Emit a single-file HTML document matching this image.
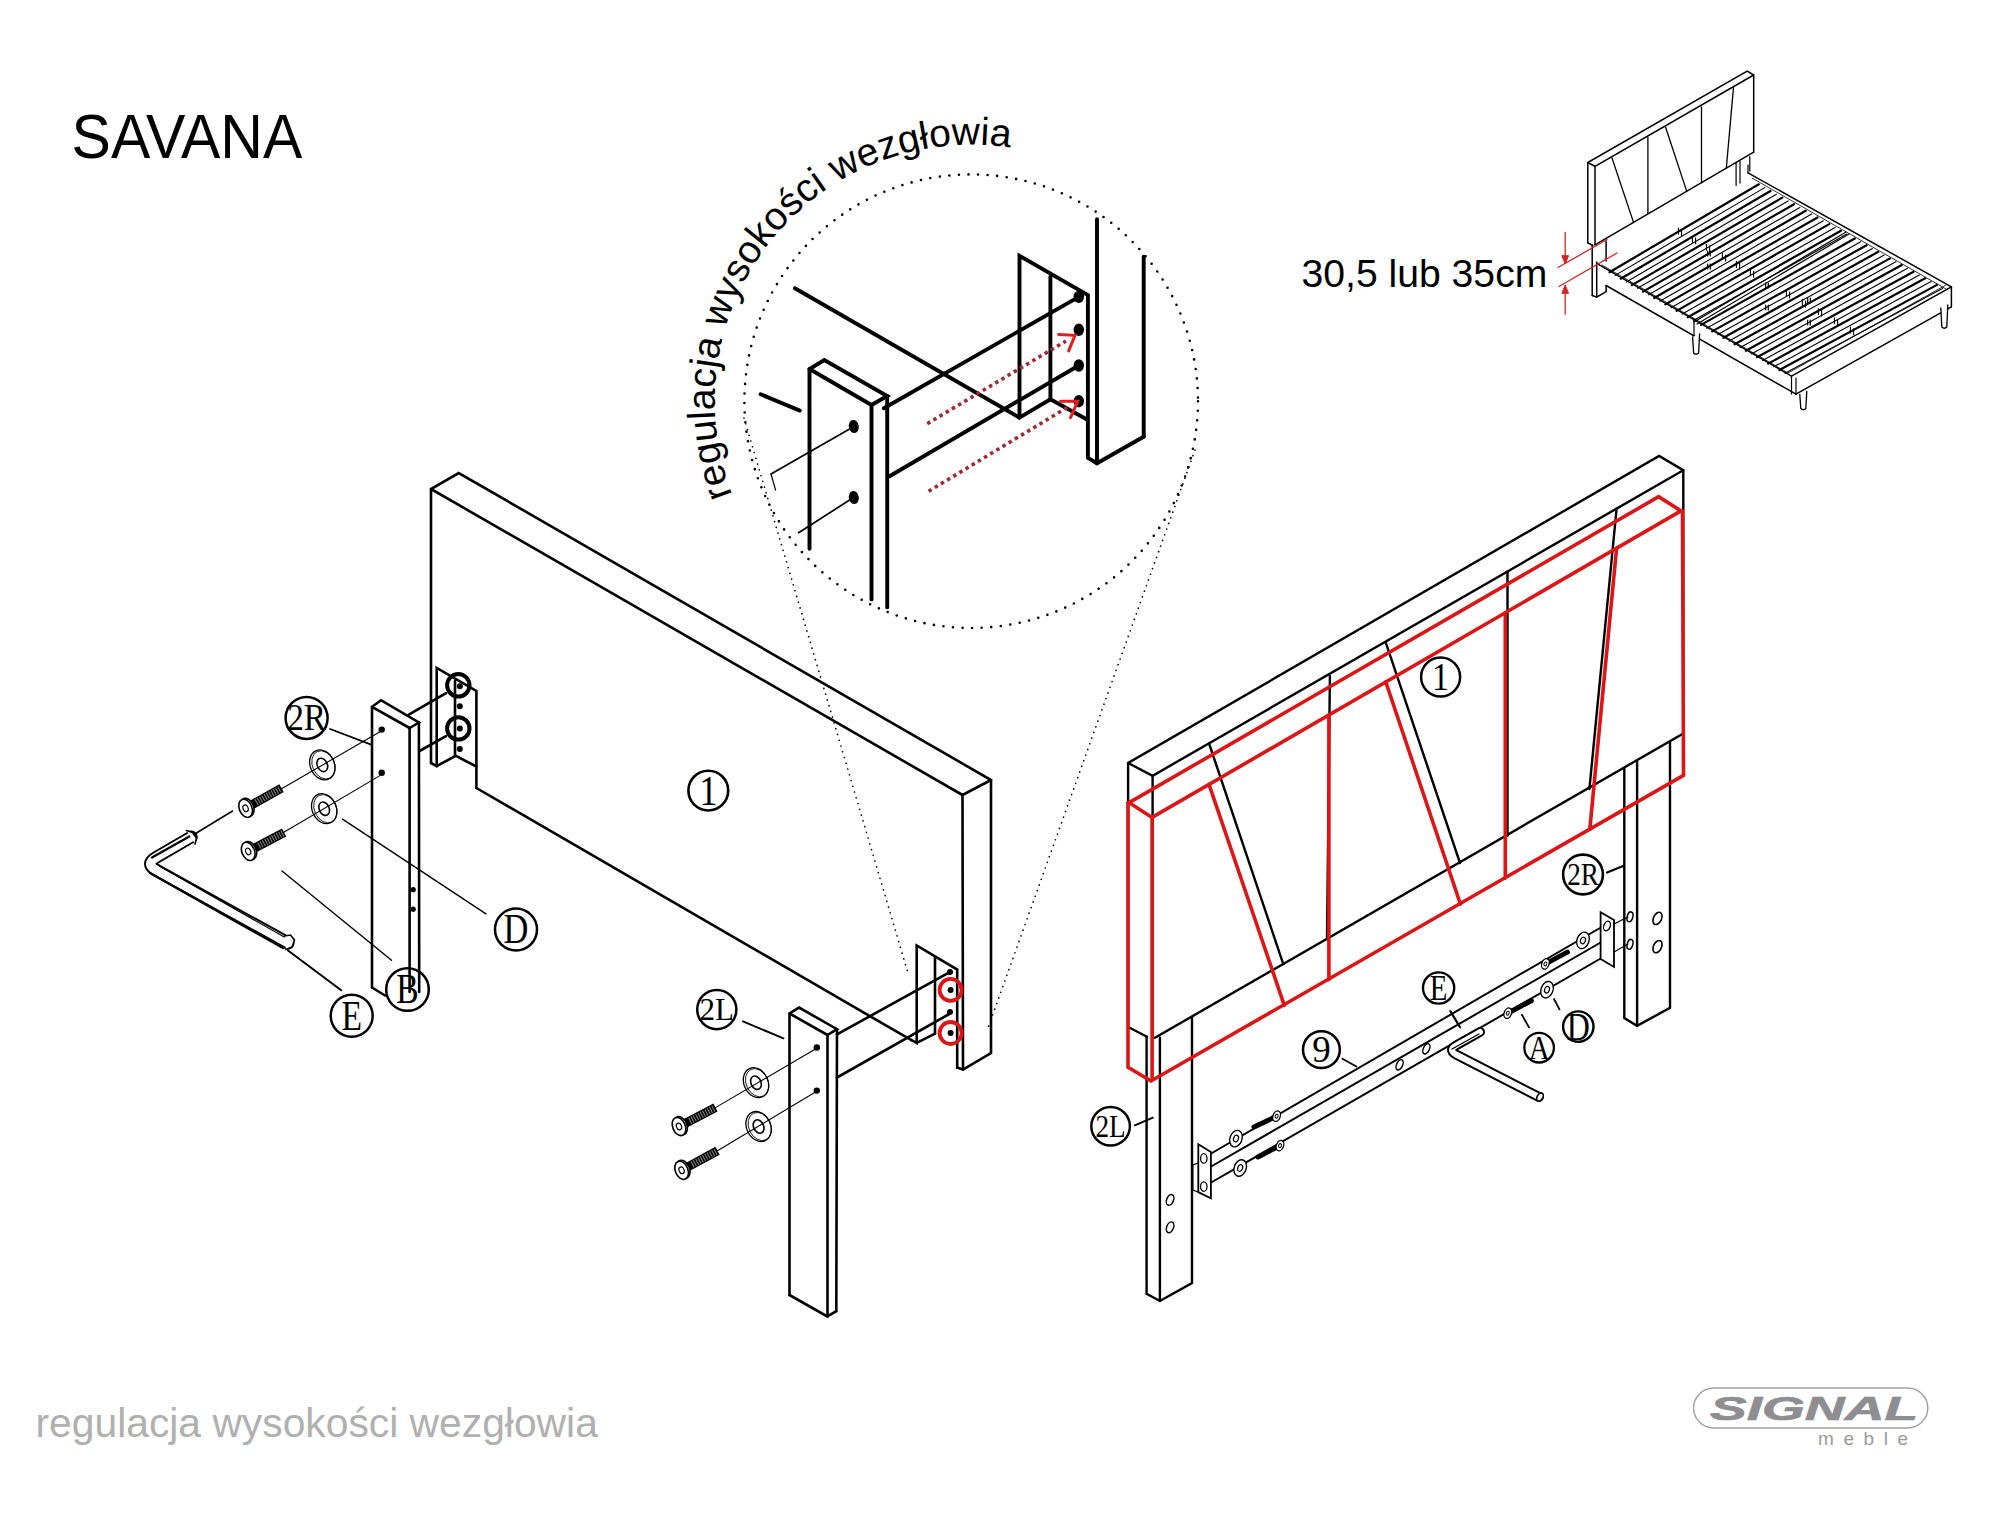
<!DOCTYPE html>
<html><head><meta charset="utf-8"><style>
html,body{margin:0;padding:0;background:#fff;}
svg{display:block;}
</style></head><body>
<svg width="2000" height="1531" viewBox="0 0 2000 1531" font-family="Liberation Sans" stroke-linecap="round">
<rect width="2000" height="1531" fill="#fff"/>
<text x="0" y="0" font-size="63" fill="#000" transform="translate(71.6 158) scale(0.937 1)">SAVANA</text>
<text x="35.5" y="1437" font-family="Liberation Sans" font-size="40.8" fill="#b0b0b0" text-anchor="start" >regulacja wysokości wezgłowia</text>
<text x="0" y="0" font-size="38" fill="#000" transform="translate(1301.5 287) scale(1.03 1)">30,5 lub 35cm</text>
<polyline points="431,763 431,489 458.7,473 991,780 991,1053 963,1069.6 957.2,1067.6" stroke="#000" stroke-width="2.6" fill="none" stroke-linejoin="miter" />
<line x1="431" y1="489" x2="962.5" y2="795" stroke="#000" stroke-width="2.6" />
<line x1="962.5" y1="795" x2="991" y2="780" stroke="#000" stroke-width="2.6" />
<line x1="962.5" y1="795" x2="963" y2="1069.6" stroke="#000" stroke-width="2.6" />
<polyline points="431,763 436.7,766.1" stroke="#000" stroke-width="2.6" fill="none" stroke-linejoin="miter" />
<polyline points="436.7,766.1 436.7,668 476.4,691 476.4,788" stroke="#000" stroke-width="2.6" fill="none" stroke-linejoin="miter" />
<polyline points="436.7,766.1 455.8,755.8 476.4,766.6" stroke="#000" stroke-width="2.6" fill="none" stroke-linejoin="miter" />
<line x1="455" y1="681" x2="455" y2="755.8" stroke="#000" stroke-width="2.6" />
<line x1="476.4" y1="788" x2="911.4" y2="1040.2" stroke="#000" stroke-width="2.6" />
<polyline points="911.4,1040.2 916.7,1042.8 916.7,945.5 957.2,969.6 957.2,1067.6" stroke="#000" stroke-width="2.6" fill="none" stroke-linejoin="miter" />
<line x1="916.7" y1="1042.8" x2="935" y2="1033.6" stroke="#000" stroke-width="2.6" />
<line x1="935" y1="957" x2="935" y2="1033.6" stroke="#000" stroke-width="2.6" />
<circle cx="459.8" cy="686.2" r="3" fill="#000"/>
<circle cx="459.8" cy="706.3" r="3" fill="#000"/>
<circle cx="459.8" cy="728.4" r="3" fill="#000"/>
<circle cx="459.8" cy="749" r="3" fill="#000"/>
<circle cx="950" cy="972" r="3" fill="#000"/>
<circle cx="950.6" cy="989.9" r="3" fill="#000"/>
<circle cx="950" cy="1012" r="3" fill="#000"/>
<circle cx="950.6" cy="1033" r="3" fill="#000"/>
<circle cx="458.3" cy="685.3" r="11.2" stroke="#000" stroke-width="4.0" fill="none" />
<circle cx="458.3" cy="728.4" r="11.2" stroke="#000" stroke-width="4.0" fill="none" />
<circle cx="950.6" cy="989.9" r="11" stroke="#dc1616" stroke-width="3.8" fill="none" />
<circle cx="950.6" cy="1033" r="11" stroke="#dc1616" stroke-width="3.8" fill="none" />
<polyline points="372,987.5 372,706.8 381,700.2 418.9,722.5 409.6,728" stroke="#000" stroke-width="2.6" fill="none" stroke-linejoin="miter" />
<line x1="372" y1="706.8" x2="409.6" y2="728" stroke="#000" stroke-width="2.6" />
<line x1="409.6" y1="728" x2="409.6" y2="992" stroke="#000" stroke-width="2.6" />
<line x1="418.9" y1="722.5" x2="419.2" y2="992" stroke="#000" stroke-width="2.6" />
<line x1="372" y1="987.5" x2="385" y2="995.5" stroke="#000" stroke-width="2.6" />
<circle cx="381.7" cy="729.6" r="3.2" fill="#000"/>
<circle cx="381.7" cy="772.7" r="3.2" fill="#000"/>
<circle cx="413.2" cy="889.7" r="2.6" fill="#000"/>
<circle cx="413.2" cy="909.2" r="2.6" fill="#000"/>
<line x1="408.8" y1="714.7" x2="446" y2="693.1" stroke="#000" stroke-width="2.6" />
<line x1="419.6" y1="751" x2="446" y2="736.2" stroke="#000" stroke-width="2.6" />
<line x1="380.4" y1="731.6" x2="282" y2="788.4" stroke="#000" stroke-width="1.1" />
<line x1="380.4" y1="775.4" x2="283" y2="832.8" stroke="#000" stroke-width="1.1" />
<ellipse cx="322.3" cy="764.9" rx="12" ry="15.5" transform="rotate(-25 322.3 764.9)" stroke="#000" stroke-width="1.3" fill="none"/>
<ellipse cx="323.5" cy="764.9" rx="11" ry="14.7" transform="rotate(-25 323.5 764.9)" stroke="#000" stroke-width="0.8" fill="none"/>
<ellipse cx="322.3" cy="764.9" rx="5" ry="7" transform="rotate(-25 322.3 764.9)" stroke="#000" stroke-width="1.6" fill="none"/>
<ellipse cx="324.2" cy="808.7" rx="12" ry="15.5" transform="rotate(-25 324.2 808.7)" stroke="#000" stroke-width="1.3" fill="none"/>
<ellipse cx="325.4" cy="808.7" rx="11" ry="14.7" transform="rotate(-25 325.4 808.7)" stroke="#000" stroke-width="0.8" fill="none"/>
<ellipse cx="324.2" cy="808.7" rx="5" ry="7" transform="rotate(-25 324.2 808.7)" stroke="#000" stroke-width="1.6" fill="none"/>
<line x1="249.1" y1="806.3" x2="281.5" y2="788.1" stroke="#000" stroke-width="9" stroke-linecap="butt"/>
<line x1="256.1" y1="802.4" x2="280.2" y2="788.8" stroke="#fff" stroke-width="6.6" stroke-dasharray="1.1 1.5" stroke-linecap="butt" opacity="0.5"/>
<ellipse cx="247.2" cy="807.4" rx="6.3" ry="9.5" transform="rotate(-22 247.2 807.4)" stroke="#000" stroke-width="1.6" fill="#fff"/>
<ellipse cx="245.6" cy="808.3" rx="6.3" ry="9.5" transform="rotate(-22 245.6 808.3)" stroke="#000" stroke-width="1.6" fill="#fff"/>
<ellipse cx="245.6" cy="808.3" rx="2.5" ry="3.4" transform="rotate(-22 245.6 808.3)" stroke="#000" stroke-width="1.2" fill="none"/>
<line x1="251.7" y1="849.5" x2="284.1" y2="832.5" stroke="#000" stroke-width="9" stroke-linecap="butt"/>
<line x1="258.8" y1="845.8" x2="282.8" y2="833.2" stroke="#fff" stroke-width="6.6" stroke-dasharray="1.1 1.5" stroke-linecap="butt" opacity="0.5"/>
<ellipse cx="249.8" cy="850.6" rx="6.3" ry="9.5" transform="rotate(-22 249.8 850.6)" stroke="#000" stroke-width="1.6" fill="#fff"/>
<ellipse cx="248.2" cy="851.4" rx="6.3" ry="9.5" transform="rotate(-22 248.2 851.4)" stroke="#000" stroke-width="1.6" fill="#fff"/>
<ellipse cx="248.2" cy="851.4" rx="2.5" ry="3.4" transform="rotate(-22 248.2 851.4)" stroke="#000" stroke-width="1.2" fill="none"/>
<path d="M191.2,837 L156,857.5 Q145,864 156,870 L288,943" fill="none" stroke="#000" stroke-width="13" stroke-linejoin="round"/>
<path d="M191.2,837 L156,857.5 Q145,864 156,870 L288,943" fill="none" stroke="#fff" stroke-width="9" stroke-linejoin="round"/>
<line x1="152" y1="857.5" x2="191.5" y2="835.2" stroke="#000" stroke-width="2.2" />
<line x1="160" y1="866.5" x2="286" y2="938" stroke="#000" stroke-width="1.2" />
<line x1="150" y1="873" x2="283" y2="948" stroke="#000" stroke-width="2.4" />
<path d="M186.5,830.5 L192.5,832.5 L196.5,838 L195,844" fill="#fff" stroke="#000" stroke-width="1.6"/>
<path d="M284.5,936 L290.5,935 L294.5,940 L292,947 L286,949.5" fill="#fff" stroke="#000" stroke-width="1.6"/>
<line x1="194" y1="834.5" x2="232.5" y2="811" stroke="#000" stroke-width="1.6" />
<line x1="330.1" y1="729" x2="371.2" y2="744.7" stroke="#000" stroke-width="1.8" />
<line x1="342.5" y1="819.1" x2="486" y2="913.8" stroke="#000" stroke-width="1.4" />
<line x1="282" y1="871" x2="391.5" y2="960.2" stroke="#000" stroke-width="1.4" />
<line x1="288" y1="950.5" x2="341.2" y2="990.2" stroke="#000" stroke-width="2.0" />
<circle cx="306.6" cy="717.9" r="21" stroke="#000" stroke-width="2.5" fill="none" />
<text x="0" y="0" font-family="Liberation Serif" font-size="37" fill="#000" text-anchor="middle" transform="translate(306.6 730.1) scale(0.9 1)">2R</text>
<circle cx="516" cy="929.5" r="21" stroke="#000" stroke-width="2.5" fill="none" />
<text x="0" y="0" font-family="Liberation Serif" font-size="42" fill="#000" text-anchor="middle" transform="translate(516 943.4) scale(0.82 1)">D</text>
<circle cx="407.5" cy="989.5" r="21.3" stroke="#000" stroke-width="2.5" fill="none" />
<text x="0" y="0" font-family="Liberation Serif" font-size="42" fill="#000" text-anchor="middle" transform="translate(407.5 1003.4) scale(0.8 1)">B</text>
<circle cx="351.7" cy="1015.7" r="21" stroke="#000" stroke-width="2.5" fill="none" />
<text x="0" y="0" font-family="Liberation Serif" font-size="42" fill="#000" text-anchor="middle" transform="translate(351.7 1029.6) scale(0.8 1)">E</text>
<circle cx="708.3" cy="790.6" r="19.9" stroke="#000" stroke-width="2.6" fill="none" />
<text x="0" y="0" font-family="Liberation Serif" font-size="43" fill="#000" text-anchor="middle" transform="translate(708.3 804.8) scale(0.85 1)">1</text>
<circle cx="716.8" cy="1009.6" r="19.6" stroke="#000" stroke-width="2.5" fill="none" />
<text x="716.8" y="1019.8" font-family="Liberation Serif" font-size="31" fill="#000" text-anchor="middle" >2L</text>
<polyline points="789.5,1295 789.5,1013.5 799.1,1007.6 837,1029.2 827.5,1035" stroke="#000" stroke-width="2.6" fill="none" stroke-linejoin="miter" />
<line x1="789.5" y1="1013.5" x2="827.5" y2="1035" stroke="#000" stroke-width="2.6" />
<line x1="827.5" y1="1035" x2="827.5" y2="1316.4" stroke="#000" stroke-width="2.6" />
<line x1="837" y1="1029.2" x2="836.3" y2="1311.2" stroke="#000" stroke-width="2.6" />
<polyline points="789.5,1295 827.3,1316.4 836.3,1311.2" stroke="#000" stroke-width="2.6" fill="none" stroke-linejoin="miter" />
<circle cx="816.8" cy="1047.5" r="3.2" fill="#000"/>
<circle cx="816.8" cy="1090.6" r="3.2" fill="#000"/>
<line x1="837" y1="1034.4" x2="949.3" y2="972.3" stroke="#000" stroke-width="2.6" />
<line x1="837" y1="1077.5" x2="949.3" y2="1014" stroke="#000" stroke-width="2.6" />
<line x1="743" y1="1021.4" x2="783.4" y2="1038.3" stroke="#000" stroke-width="1.9" />
<line x1="815.5" y1="1049" x2="715.5" y2="1107.6" stroke="#000" stroke-width="1.1" />
<line x1="815.5" y1="1092" x2="717.5" y2="1150.7" stroke="#000" stroke-width="1.1" />
<ellipse cx="756" cy="1082.7" rx="12" ry="15.5" transform="rotate(-25 756 1082.7)" stroke="#000" stroke-width="1.3" fill="none"/>
<ellipse cx="757.2" cy="1082.7" rx="11" ry="14.7" transform="rotate(-25 757.2 1082.7)" stroke="#000" stroke-width="0.8" fill="none"/>
<ellipse cx="756" cy="1082.7" rx="5" ry="7" transform="rotate(-25 756 1082.7)" stroke="#000" stroke-width="1.6" fill="none"/>
<ellipse cx="758.6" cy="1126.5" rx="12" ry="15.5" transform="rotate(-25 758.6 1126.5)" stroke="#000" stroke-width="1.3" fill="none"/>
<ellipse cx="759.8" cy="1126.5" rx="11" ry="14.7" transform="rotate(-25 759.8 1126.5)" stroke="#000" stroke-width="0.8" fill="none"/>
<ellipse cx="758.6" cy="1126.5" rx="5" ry="7" transform="rotate(-25 758.6 1126.5)" stroke="#000" stroke-width="1.6" fill="none"/>
<line x1="682.6" y1="1124.7" x2="715.5" y2="1107.6" stroke="#000" stroke-width="9" stroke-linecap="butt"/>
<line x1="689.7" y1="1121" x2="714.2" y2="1108.3" stroke="#fff" stroke-width="6.6" stroke-dasharray="1.1 1.5" stroke-linecap="butt" opacity="0.5"/>
<ellipse cx="680.6" cy="1125.7" rx="6.3" ry="9.5" transform="rotate(-22 680.6 1125.7)" stroke="#000" stroke-width="1.6" fill="#fff"/>
<ellipse cx="679" cy="1126.5" rx="6.3" ry="9.5" transform="rotate(-22 679 1126.5)" stroke="#000" stroke-width="1.6" fill="#fff"/>
<ellipse cx="679" cy="1126.5" rx="2.5" ry="3.4" transform="rotate(-22 679 1126.5)" stroke="#000" stroke-width="1.2" fill="none"/>
<line x1="685.1" y1="1168.4" x2="717.5" y2="1150.7" stroke="#000" stroke-width="9" stroke-linecap="butt"/>
<line x1="692.1" y1="1164.5" x2="716.2" y2="1151.4" stroke="#fff" stroke-width="6.6" stroke-dasharray="1.1 1.5" stroke-linecap="butt" opacity="0.5"/>
<ellipse cx="683.2" cy="1169.4" rx="6.3" ry="9.5" transform="rotate(-22 683.2 1169.4)" stroke="#000" stroke-width="1.6" fill="#fff"/>
<ellipse cx="681.6" cy="1170.3" rx="6.3" ry="9.5" transform="rotate(-22 681.6 1170.3)" stroke="#000" stroke-width="1.6" fill="#fff"/>
<ellipse cx="681.6" cy="1170.3" rx="2.5" ry="3.4" transform="rotate(-22 681.6 1170.3)" stroke="#000" stroke-width="1.2" fill="none"/>
<circle cx="971.2" cy="401.2" r="226.8" fill="none" stroke="#000" stroke-width="2.6" stroke-dasharray="0 9.6" stroke-linecap="round"/>
<line x1="744" y1="418" x2="908" y2="973" stroke="#000" stroke-width="1.7" stroke-dasharray="0 6" stroke-linecap="round"/>
<line x1="1195" y1="450" x2="988" y2="1028" stroke="#000" stroke-width="1.7" stroke-dasharray="0 6" stroke-linecap="round"/>
<polyline points="809.5,548.8 809.5,369 824.3,360 887.2,396 871.5,405" stroke="#000" stroke-width="3.9" fill="none" stroke-linejoin="miter" />
<line x1="809.5" y1="369" x2="871.5" y2="405" stroke="#000" stroke-width="3.9" />
<line x1="871.5" y1="405" x2="871.5" y2="599.4" stroke="#000" stroke-width="3.9" />
<line x1="887.2" y1="396" x2="887.2" y2="607.4" stroke="#000" stroke-width="3.9" />
<ellipse cx="853.8" cy="426.5" rx="5" ry="6.5" transform="rotate(-10 853.8 426.5)" stroke="#000" stroke-width="0" fill="#000"/>
<ellipse cx="853.8" cy="497.5" rx="5" ry="6.5" transform="rotate(-10 853.8 497.5)" stroke="#000" stroke-width="0" fill="#000"/>
<line x1="849.6" y1="429" x2="771" y2="474" stroke="#000" stroke-width="1.7" />
<line x1="771" y1="474" x2="775.6" y2="490.1" stroke="#000" stroke-width="1.2" />
<line x1="849.6" y1="500" x2="798.6" y2="532.7" stroke="#000" stroke-width="1.7" />
<line x1="760.6" y1="394.3" x2="799.8" y2="410.6" stroke="#000" stroke-width="3.9" />
<line x1="794.9" y1="288.2" x2="1019.3" y2="417.6" stroke="#000" stroke-width="3.9" />
<line x1="883.9" y1="408.2" x2="1078.8" y2="296.9" stroke="#000" stroke-width="3.9" />
<line x1="889.5" y1="476.3" x2="1078.8" y2="365.5" stroke="#000" stroke-width="3.9" />
<polyline points="1019.5,417.6 1019.5,255.8 1087.9,295.1 1087.9,457.9 1097,463.3" stroke="#000" stroke-width="3.9" fill="none" stroke-linejoin="miter" />
<line x1="1050.4" y1="276.8" x2="1050.4" y2="399.3" stroke="#000" stroke-width="3.9" />
<polyline points="1019.5,417.6 1050.4,399.3 1087,419.5" stroke="#000" stroke-width="3.9" fill="none" stroke-linejoin="miter" />
<ellipse cx="1078.8" cy="296.9" rx="5.2" ry="6.2" transform="rotate(0 1078.8 296.9)" stroke="#000" stroke-width="0" fill="#000"/>
<ellipse cx="1078.8" cy="329.8" rx="5.2" ry="6.2" transform="rotate(0 1078.8 329.8)" stroke="#000" stroke-width="0" fill="#000"/>
<ellipse cx="1078.8" cy="365.5" rx="5.2" ry="6.2" transform="rotate(0 1078.8 365.5)" stroke="#000" stroke-width="0" fill="#000"/>
<ellipse cx="1078.8" cy="401.2" rx="5.2" ry="6.2" transform="rotate(0 1078.8 401.2)" stroke="#000" stroke-width="0" fill="#000"/>
<line x1="1097" y1="219.2" x2="1097" y2="463.3" stroke="#000" stroke-width="3.9" />
<line x1="1143.7" y1="256.7" x2="1143.7" y2="436.8" stroke="#000" stroke-width="3.9" />
<line x1="1097" y1="463.3" x2="1143.7" y2="436.8" stroke="#000" stroke-width="3.9" />
<line x1="927.2" y1="423.7" x2="1066" y2="341" stroke="#9e2a36" stroke-width="3.6" stroke-dasharray="3.5 3.7" stroke-linecap="butt"/>
<line x1="928.6" y1="491.3" x2="1068" y2="407" stroke="#9e2a36" stroke-width="3.6" stroke-dasharray="3.5 3.7" stroke-linecap="butt"/>
<polyline points="1058.6,334.4 1075,335.3 1068.7,350.9" stroke="#e41c1c" stroke-width="3.0" fill="none" stroke-linejoin="miter" />
<polyline points="1060.5,401.2 1077.8,401.2 1070.5,417.6" stroke="#e41c1c" stroke-width="3.0" fill="none" stroke-linejoin="miter" />
<path id="arc" d="M732.4,494.8 A256.5,256.5 0 0 1 1020.1,149.4" fill="none"/>
<text font-family="Liberation Sans" font-size="39" fill="#000"><textPath href="#arc" startOffset="0">regulacja wysokości wezgłowia</textPath></text>
<polyline points="1146.6,1036.8 1146.6,1293.9 1159.9,1301 1192,1283 1192,1017" stroke="#000" stroke-width="2.4" fill="none" stroke-linejoin="miter" />
<line x1="1159.9" y1="1037.8" x2="1159.9" y2="1301" stroke="#000" stroke-width="2.4" />
<ellipse cx="1170.1" cy="1199.9" rx="3.4" ry="5.6" transform="rotate(22 1170.1 1199.9)" stroke="#000" stroke-width="1.5" fill="none"/>
<ellipse cx="1170.1" cy="1227.3" rx="3.4" ry="5.6" transform="rotate(22 1170.1 1227.3)" stroke="#000" stroke-width="1.5" fill="none"/>
<polyline points="1624.3,769 1624.3,1018 1637.1,1025.8 1670,1007.8 1670,742" stroke="#000" stroke-width="2.4" fill="none" stroke-linejoin="miter" />
<line x1="1637.1" y1="761.4" x2="1637.1" y2="1025.8" stroke="#000" stroke-width="2.4" />
<ellipse cx="1630" cy="916.8" rx="2.8" ry="5" transform="rotate(15 1630 916.8)" stroke="#000" stroke-width="1.5" fill="none"/>
<ellipse cx="1630" cy="944.3" rx="2.8" ry="5" transform="rotate(15 1630 944.3)" stroke="#000" stroke-width="1.5" fill="none"/>
<ellipse cx="1657.5" cy="918.4" rx="4" ry="6.5" transform="rotate(25 1657.5 918.4)" stroke="#000" stroke-width="1.6" fill="none"/>
<ellipse cx="1657.5" cy="946.6" rx="4" ry="6.5" transform="rotate(25 1657.5 946.6)" stroke="#000" stroke-width="1.6" fill="none"/>
<polyline points="1128.1,1027 1128.1,763 1659.1,456 1683.3,470.2 1683.3,735" stroke="#000" stroke-width="2.4" fill="none" stroke-linejoin="miter" />
<polyline points="1128.1,763 1152.6,775.8 1683.3,470.2" stroke="#000" stroke-width="2.4" fill="none" stroke-linejoin="miter" />
<line x1="1152.6" y1="775.8" x2="1152.6" y2="1037.8" stroke="#000" stroke-width="2.4" />
<polyline points="1128.1,1027 1147,1036.8" stroke="#000" stroke-width="2.4" fill="none" stroke-linejoin="miter" />
<line x1="1154.9" y1="1037.8" x2="1683.3" y2="733.5" stroke="#000" stroke-width="2.4" />
<line x1="1209.4" y1="744.5" x2="1283.3" y2="964.2" stroke="#000" stroke-width="2.4" />
<line x1="1329.9" y1="676" x2="1327" y2="939.2" stroke="#000" stroke-width="2.4" />
<line x1="1385.8" y1="642.6" x2="1460" y2="863" stroke="#000" stroke-width="2.4" />
<line x1="1507.5" y1="571.4" x2="1507.5" y2="835.8" stroke="#000" stroke-width="2.4" />
<line x1="1616.6" y1="508.6" x2="1589.4" y2="789" stroke="#000" stroke-width="2.4" />
<polyline points="1152.1,817.4 1129.1,802.7 1658.6,496.7 1681,510.9 1152.1,817.4" stroke="#dc1616" stroke-width="3.6" fill="none" stroke-linejoin="miter" />
<polyline points="1128,802.7 1128,1067.2 1151,1081 1683.5,775.4 1682.5,510.9" stroke="#dc1616" stroke-width="3.6" fill="none" stroke-linejoin="miter" />
<line x1="1152.1" y1="817.4" x2="1152.1" y2="1080" stroke="#dc1616" stroke-width="3.6" />
<line x1="1209" y1="784.4" x2="1284.3" y2="1005.3" stroke="#dc1616" stroke-width="3.6" />
<line x1="1328.9" y1="714.9" x2="1328.9" y2="979.6" stroke="#dc1616" stroke-width="3.6" />
<line x1="1385.8" y1="682" x2="1460.4" y2="904" stroke="#dc1616" stroke-width="3.6" />
<line x1="1505.3" y1="612.7" x2="1505.3" y2="878.1" stroke="#dc1616" stroke-width="3.6" />
<line x1="1616.6" y1="548.2" x2="1589.8" y2="829.5" stroke="#dc1616" stroke-width="3.6" />
<line x1="1212" y1="1153" x2="1600" y2="928" stroke="#000" stroke-width="2.0" />
<line x1="1212" y1="1166" x2="1612" y2="936" stroke="#000" stroke-width="2.0" />
<line x1="1212" y1="1182" x2="1612" y2="952" stroke="#000" stroke-width="2.0" />
<polygon points="1198.3,1144.3 1210.9,1152.1 1210.9,1198.3 1198.3,1192.1" stroke="#000" stroke-width="1.8" fill="#fff" stroke-linejoin="miter" />
<ellipse cx="1203.8" cy="1158.4" rx="3.2" ry="4.8" transform="rotate(0 1203.8 1158.4)" stroke="#000" stroke-width="1.3" fill="none"/>
<ellipse cx="1203.8" cy="1186.6" rx="3.2" ry="4.8" transform="rotate(0 1203.8 1186.6)" stroke="#000" stroke-width="1.3" fill="none"/>
<polyline points="1198.3,1163 1192.8,1165 1192.8,1190 1198.3,1192" stroke="#000" stroke-width="1.3" fill="none" stroke-linejoin="miter" />
<polygon points="1600.6,912.3 1614,920 1614,967 1600.6,959" stroke="#000" stroke-width="1.8" fill="#fff" stroke-linejoin="miter" />
<ellipse cx="1607" cy="926" rx="3.2" ry="5" transform="rotate(20 1607 926)" stroke="#000" stroke-width="1.3" fill="none"/>
<line x1="1614" y1="924" x2="1628" y2="917" stroke="#000" stroke-width="1.1" />
<line x1="1614" y1="952" x2="1628" y2="944" stroke="#000" stroke-width="1.1" />
<ellipse cx="1399.6" cy="1064.8" rx="3" ry="5.5" transform="rotate(25 1399.6 1064.8)" stroke="#000" stroke-width="1.5" fill="none"/>
<ellipse cx="1426.4" cy="1048.8" rx="3" ry="5.5" transform="rotate(25 1426.4 1048.8)" stroke="#000" stroke-width="1.5" fill="none"/>
<line x1="1450.4" y1="1011.2" x2="1460" y2="1027.2" stroke="#000" stroke-width="2.2" />
<ellipse cx="1236" cy="1138.6" rx="6" ry="8.5" transform="rotate(20 1236 1138.6)" stroke="#000" stroke-width="1.4" fill="#fff"/>
<ellipse cx="1236" cy="1138.6" rx="2.4" ry="3.4" transform="rotate(20 1236 1138.6)" stroke="#000" stroke-width="1.2" fill="none"/>
<line x1="1276.6" y1="1116.2" x2="1254" y2="1127" stroke="#000" stroke-width="5"/>
<ellipse cx="1276.6" cy="1116.2" rx="3.6" ry="5.4" transform="rotate(20 1276.6 1116.2)" stroke="#000" stroke-width="1.3" fill="#fff"/>
<ellipse cx="1276.6" cy="1116.2" rx="1.4" ry="2" transform="rotate(20 1276.6 1116.2)" stroke="#000" stroke-width="1" fill="none"/>
<ellipse cx="1240.2" cy="1168" rx="6" ry="8.5" transform="rotate(20 1240.2 1168)" stroke="#000" stroke-width="1.4" fill="#fff"/>
<ellipse cx="1240.2" cy="1168" rx="2.4" ry="3.4" transform="rotate(20 1240.2 1168)" stroke="#000" stroke-width="1.2" fill="none"/>
<line x1="1280" y1="1145.6" x2="1258" y2="1157" stroke="#000" stroke-width="5"/>
<ellipse cx="1280" cy="1145.6" rx="3.6" ry="5.4" transform="rotate(20 1280 1145.6)" stroke="#000" stroke-width="1.3" fill="#fff"/>
<ellipse cx="1280" cy="1145.6" rx="1.4" ry="2" transform="rotate(20 1280 1145.6)" stroke="#000" stroke-width="1" fill="none"/>
<ellipse cx="1583" cy="940.4" rx="6" ry="8.5" transform="rotate(20 1583 940.4)" stroke="#000" stroke-width="1.4" fill="#fff"/>
<ellipse cx="1583" cy="940.4" rx="2.4" ry="3.4" transform="rotate(20 1583 940.4)" stroke="#000" stroke-width="1.2" fill="none"/>
<line x1="1545.4" y1="963.9" x2="1567.4" y2="952.1" stroke="#000" stroke-width="5"/>
<ellipse cx="1545.4" cy="963.9" rx="3.6" ry="5.4" transform="rotate(20 1545.4 963.9)" stroke="#000" stroke-width="1.3" fill="#fff"/>
<ellipse cx="1545.4" cy="963.9" rx="1.4" ry="2" transform="rotate(20 1545.4 963.9)" stroke="#000" stroke-width="1" fill="none"/>
<ellipse cx="1547" cy="989.7" rx="6" ry="8.5" transform="rotate(20 1547 989.7)" stroke="#000" stroke-width="1.4" fill="#fff"/>
<ellipse cx="1547" cy="989.7" rx="2.4" ry="3.4" transform="rotate(20 1547 989.7)" stroke="#000" stroke-width="1.2" fill="none"/>
<line x1="1507.8" y1="1013.2" x2="1531.3" y2="1000.7" stroke="#000" stroke-width="5"/>
<ellipse cx="1507.8" cy="1013.2" rx="3.6" ry="5.4" transform="rotate(20 1507.8 1013.2)" stroke="#000" stroke-width="1.3" fill="#fff"/>
<ellipse cx="1507.8" cy="1013.2" rx="1.4" ry="2" transform="rotate(20 1507.8 1013.2)" stroke="#000" stroke-width="1" fill="none"/>
<path d="M1480,1032 L1456,1045.5 Q1448,1050 1456,1054.5 L1539,1097" fill="none" stroke="#000" stroke-width="10" stroke-linejoin="round"/>
<path d="M1480,1032 L1456,1045.5 Q1448,1050 1456,1054.5 L1539,1097" fill="none" stroke="#fff" stroke-width="6" stroke-linejoin="round"/>
<line x1="1452" y1="1049" x2="1479" y2="1034" stroke="#000" stroke-width="1.3" />
<ellipse cx="1540" cy="1097" rx="2.8" ry="4.4" transform="rotate(30 1540 1097)" fill="#fff" stroke="#000" stroke-width="1.6"/>
<circle cx="1440.6" cy="677" r="19.5" stroke="#000" stroke-width="2.5" fill="none" />
<text x="0" y="0" font-family="Liberation Serif" font-size="40" fill="#000" text-anchor="middle" transform="translate(1440.6 690.2) scale(0.85 1)">1</text>
<circle cx="1583" cy="874.5" r="19.9" stroke="#000" stroke-width="2.6" fill="none" />
<text x="0" y="0" font-family="Liberation Serif" font-size="32" fill="#000" text-anchor="middle" transform="translate(1583 885.1) scale(0.85 1)">2R</text>
<circle cx="1438.6" cy="988" r="15.6" stroke="#000" stroke-width="2.4" fill="none" />
<text x="0" y="0" font-family="Liberation Serif" font-size="36" fill="#000" text-anchor="middle" transform="translate(1438.6 999.9) scale(0.8 1)">E</text>
<circle cx="1321.4" cy="1049.7" r="18.4" stroke="#000" stroke-width="2.5" fill="none" />
<text x="1321.4" y="1061.9" font-family="Liberation Serif" font-size="37" fill="#000" text-anchor="middle" >9</text>
<circle cx="1539.1" cy="1047.7" r="14.8" stroke="#000" stroke-width="2.3" fill="none" />
<text x="0" y="0" font-family="Liberation Serif" font-size="34" fill="#000" text-anchor="middle" transform="translate(1539.1 1058.9) scale(0.85 1)">A</text>
<circle cx="1578.3" cy="1026.6" r="15.2" stroke="#000" stroke-width="2.4" fill="none" />
<text x="0" y="0" font-family="Liberation Serif" font-size="39" fill="#000" text-anchor="middle" transform="translate(1578.3 1039.5) scale(0.82 1)">D</text>
<circle cx="1110.6" cy="1126.2" r="19.3" stroke="#000" stroke-width="2.5" fill="none" />
<text x="0" y="0" font-family="Liberation Serif" font-size="32" fill="#000" text-anchor="middle" transform="translate(1110.6 1136.8) scale(0.85 1)">2L</text>
<line x1="1342.4" y1="1058.8" x2="1356.4" y2="1066.5" stroke="#000" stroke-width="1.8" />
<line x1="1521.9" y1="1014.8" x2="1529" y2="1027.4" stroke="#000" stroke-width="1.8" />
<line x1="1554" y1="999" x2="1559.5" y2="1009.3" stroke="#000" stroke-width="1.8" />
<line x1="1134.8" y1="1125.4" x2="1152.9" y2="1117.6" stroke="#000" stroke-width="1.8" />
<line x1="1607" y1="872.6" x2="1623.8" y2="865.8" stroke="#000" stroke-width="2.2" />
<line x1="1609.5" y1="272.2" x2="1758.8" y2="184.3" stroke="#000" stroke-width="2.2" />
<line x1="1615.1" y1="275.4" x2="1764.7" y2="187.6" stroke="#000" stroke-width="1.1" />
<line x1="1620.7" y1="278.7" x2="1770.5" y2="191" stroke="#000" stroke-width="2.2" />
<line x1="1626.3" y1="281.9" x2="1776.4" y2="194.3" stroke="#000" stroke-width="1.1" />
<line x1="1631.9" y1="285.1" x2="1782.3" y2="197.6" stroke="#000" stroke-width="2.2" />
<line x1="1637.5" y1="288.3" x2="1788.1" y2="200.9" stroke="#000" stroke-width="1.1" />
<line x1="1643.1" y1="291.6" x2="1794" y2="204.2" stroke="#000" stroke-width="2.2" />
<line x1="1648.6" y1="294.8" x2="1799.9" y2="207.5" stroke="#000" stroke-width="1.1" />
<line x1="1654.2" y1="298" x2="1805.7" y2="210.8" stroke="#000" stroke-width="2.2" />
<line x1="1659.8" y1="301.2" x2="1811.6" y2="214.1" stroke="#000" stroke-width="1.1" />
<line x1="1665.4" y1="304.4" x2="1817.5" y2="217.5" stroke="#000" stroke-width="2.2" />
<line x1="1671" y1="307.7" x2="1823.3" y2="220.8" stroke="#000" stroke-width="1.1" />
<line x1="1676.6" y1="310.9" x2="1829.2" y2="224.1" stroke="#000" stroke-width="2.2" />
<line x1="1682.2" y1="314.1" x2="1835.1" y2="227.4" stroke="#000" stroke-width="1.1" />
<line x1="1687.8" y1="317.3" x2="1840.9" y2="230.7" stroke="#000" stroke-width="2.2" />
<line x1="1693.4" y1="320.6" x2="1846.8" y2="234" stroke="#000" stroke-width="1.1" />
<line x1="1701" y1="324.9" x2="1854.8" y2="238.5" stroke="#000" stroke-width="2.2" />
<line x1="1706.6" y1="328.2" x2="1860.7" y2="241.8" stroke="#000" stroke-width="1.1" />
<line x1="1712.2" y1="331.4" x2="1866.6" y2="245.2" stroke="#000" stroke-width="2.2" />
<line x1="1717.8" y1="334.6" x2="1872.4" y2="248.5" stroke="#000" stroke-width="1.1" />
<line x1="1723.4" y1="337.8" x2="1878.3" y2="251.8" stroke="#000" stroke-width="2.2" />
<line x1="1729" y1="341.1" x2="1884.2" y2="255.1" stroke="#000" stroke-width="1.1" />
<line x1="1734.6" y1="344.3" x2="1890" y2="258.4" stroke="#000" stroke-width="2.2" />
<line x1="1740.2" y1="347.5" x2="1895.9" y2="261.7" stroke="#000" stroke-width="1.1" />
<line x1="1745.8" y1="350.7" x2="1901.8" y2="265" stroke="#000" stroke-width="2.2" />
<line x1="1751.4" y1="353.9" x2="1907.6" y2="268.3" stroke="#000" stroke-width="1.1" />
<line x1="1757" y1="357.2" x2="1913.5" y2="271.7" stroke="#000" stroke-width="2.2" />
<line x1="1762.6" y1="360.4" x2="1919.4" y2="275" stroke="#000" stroke-width="1.1" />
<line x1="1768.2" y1="363.6" x2="1925.2" y2="278.3" stroke="#000" stroke-width="2.2" />
<line x1="1773.8" y1="366.8" x2="1931.1" y2="281.6" stroke="#000" stroke-width="1.1" />
<line x1="1779.4" y1="370" x2="1937" y2="284.9" stroke="#000" stroke-width="2.2" />
<line x1="1785" y1="373.3" x2="1942.8" y2="288.2" stroke="#000" stroke-width="1.1" />
<line x1="1694" y1="322" x2="1846" y2="232" stroke="#000" stroke-width="1.2" />
<line x1="1697" y1="324" x2="1849" y2="234" stroke="#000" stroke-width="1.2" />
<line x1="1678.4" y1="228.1" x2="1678.4" y2="234.1" stroke="#000" stroke-width="1.1" />
<line x1="1681.6" y1="229.8" x2="1681.6" y2="235.8" stroke="#000" stroke-width="1.1" />
<line x1="1692.4" y1="236.2" x2="1692.4" y2="242.2" stroke="#000" stroke-width="1.1" />
<line x1="1695.6" y1="237.8" x2="1695.6" y2="243.8" stroke="#000" stroke-width="1.1" />
<line x1="1706.4" y1="244.2" x2="1706.4" y2="250.2" stroke="#000" stroke-width="1.1" />
<line x1="1709.6" y1="245.9" x2="1709.6" y2="251.9" stroke="#000" stroke-width="1.1" />
<line x1="1722.4" y1="253.4" x2="1722.4" y2="259.4" stroke="#000" stroke-width="1.1" />
<line x1="1725.6" y1="255.1" x2="1725.6" y2="261.1" stroke="#000" stroke-width="1.1" />
<line x1="1736.4" y1="261.4" x2="1736.4" y2="267.4" stroke="#000" stroke-width="1.1" />
<line x1="1739.6" y1="263.1" x2="1739.6" y2="269.1" stroke="#000" stroke-width="1.1" />
<line x1="1750.4" y1="269.5" x2="1750.4" y2="275.5" stroke="#000" stroke-width="1.1" />
<line x1="1753.6" y1="271.2" x2="1753.6" y2="277.2" stroke="#000" stroke-width="1.1" />
<line x1="1786.4" y1="290.2" x2="1786.4" y2="296.2" stroke="#000" stroke-width="1.1" />
<line x1="1789.6" y1="291.9" x2="1789.6" y2="297.9" stroke="#000" stroke-width="1.1" />
<line x1="1802.4" y1="299.4" x2="1802.4" y2="305.4" stroke="#000" stroke-width="1.1" />
<line x1="1805.6" y1="301.1" x2="1805.6" y2="307.1" stroke="#000" stroke-width="1.1" />
<line x1="1818.4" y1="308.6" x2="1818.4" y2="314.6" stroke="#000" stroke-width="1.1" />
<line x1="1821.6" y1="310.3" x2="1821.6" y2="316.3" stroke="#000" stroke-width="1.1" />
<line x1="1834.4" y1="317.8" x2="1834.4" y2="323.8" stroke="#000" stroke-width="1.1" />
<line x1="1837.6" y1="319.5" x2="1837.6" y2="325.5" stroke="#000" stroke-width="1.1" />
<line x1="1850.4" y1="327" x2="1850.4" y2="333" stroke="#000" stroke-width="1.1" />
<line x1="1853.6" y1="328.7" x2="1853.6" y2="334.7" stroke="#000" stroke-width="1.1" />
<line x1="1707.7" y1="251" x2="1707.7" y2="256" stroke="#000" stroke-width="1.2" />
<line x1="1710.3" y1="251" x2="1710.3" y2="256" stroke="#000" stroke-width="1.2" />
<line x1="1707.7" y1="264" x2="1707.7" y2="269" stroke="#000" stroke-width="1.2" />
<line x1="1710.3" y1="264" x2="1710.3" y2="269" stroke="#000" stroke-width="1.2" />
<line x1="1765.7" y1="283" x2="1765.7" y2="288" stroke="#000" stroke-width="1.2" />
<line x1="1768.3" y1="283" x2="1768.3" y2="288" stroke="#000" stroke-width="1.2" />
<line x1="1765.7" y1="305" x2="1765.7" y2="310" stroke="#000" stroke-width="1.2" />
<line x1="1768.3" y1="305" x2="1768.3" y2="310" stroke="#000" stroke-width="1.2" />
<line x1="1807.7" y1="298" x2="1807.7" y2="303" stroke="#000" stroke-width="1.2" />
<line x1="1810.3" y1="298" x2="1810.3" y2="303" stroke="#000" stroke-width="1.2" />
<line x1="1807.7" y1="320" x2="1807.7" y2="325" stroke="#000" stroke-width="1.2" />
<line x1="1810.3" y1="320" x2="1810.3" y2="325" stroke="#000" stroke-width="1.2" />
<polyline points="1587.8,242.9 1587.8,162.5 1747.2,71.1 1753.7,75 1753.7,152.1" stroke="#000" stroke-width="1.5" fill="none" stroke-linejoin="miter" />
<polyline points="1587.8,162.5 1595,166.5 1753.7,75" stroke="#000" stroke-width="1.5" fill="none" stroke-linejoin="miter" />
<line x1="1595" y1="166.5" x2="1595" y2="244.8" stroke="#000" stroke-width="1.5" />
<line x1="1595" y1="244.8" x2="1753.7" y2="152.1" stroke="#000" stroke-width="1.5" />
<line x1="1587.8" y1="242.9" x2="1593" y2="245.5" stroke="#000" stroke-width="1.5" />
<line x1="1612" y1="158" x2="1633.6" y2="222.6" stroke="#000" stroke-width="1.3" />
<line x1="1647.9" y1="137.1" x2="1647.9" y2="213.5" stroke="#000" stroke-width="1.3" />
<line x1="1665.6" y1="127.3" x2="1686.5" y2="190.6" stroke="#000" stroke-width="1.3" />
<line x1="1701.5" y1="107" x2="1701.5" y2="182.8" stroke="#000" stroke-width="1.3" />
<line x1="1733.5" y1="87.4" x2="1726.3" y2="168.4" stroke="#000" stroke-width="1.3" />
<line x1="1592.2" y1="245.5" x2="1592.2" y2="295.5" stroke="#000" stroke-width="1.5" />
<line x1="1596.7" y1="262" x2="1596.7" y2="297.2" stroke="#000" stroke-width="1.5" />
<polyline points="1592.2,295.5 1596.7,297.2 1606.1,291.6 1606.1,285.5" stroke="#000" stroke-width="1.5" fill="none" stroke-linejoin="miter" />
<line x1="1606.1" y1="241.1" x2="1606.1" y2="261" stroke="#000" stroke-width="1.5" />
<line x1="1736.1" y1="163.2" x2="1736.1" y2="185.4" stroke="#000" stroke-width="1.2" />
<line x1="1740" y1="161" x2="1740" y2="183" stroke="#000" stroke-width="1.2" />
<line x1="1749.8" y1="156.7" x2="1749.8" y2="171" stroke="#000" stroke-width="1.2" />
<line x1="1596.7" y1="263.3" x2="1791.5" y2="376.1" stroke="#000" stroke-width="1.5" />
<line x1="1602" y1="265" x2="1788" y2="373" stroke="#000" stroke-width="0.8" />
<line x1="1606.1" y1="285.5" x2="1796" y2="394.2" stroke="#000" stroke-width="1.5" />
<line x1="1791.5" y1="376.1" x2="1791.5" y2="394" stroke="#000" stroke-width="1.2" />
<line x1="1796" y1="378" x2="1796" y2="394.2" stroke="#000" stroke-width="1.2" />
<line x1="1694" y1="319" x2="1694" y2="336.6" stroke="#000" stroke-width="1.2" />
<line x1="1791.5" y1="376.1" x2="1951.4" y2="286.8" stroke="#000" stroke-width="1.5" />
<line x1="1788" y1="373" x2="1946" y2="285" stroke="#000" stroke-width="0.8" />
<line x1="1796" y1="394.2" x2="1951.4" y2="306.8" stroke="#000" stroke-width="1.5" />
<line x1="1951.4" y1="286.8" x2="1951.4" y2="306.8" stroke="#000" stroke-width="1.5" />
<line x1="1748" y1="172.8" x2="1951.4" y2="286.8" stroke="#000" stroke-width="1.5" />
<line x1="1752" y1="178" x2="1946" y2="289" stroke="#000" stroke-width="0.8" />
<line x1="1748" y1="165" x2="1748" y2="173" stroke="#000" stroke-width="1.2" />
<path d="M1799.8,394.5 L1800.8,408.5 Q1803.3,411.0 1805.8,408.5 L1806.8,391.5" fill="#fff" stroke="#000" stroke-width="1.3"/>
<path d="M1940.8,308 L1941.8,327 Q1944.3,329.5 1946.8,327 L1947.8,305" fill="#fff" stroke="#000" stroke-width="1.3"/>
<path d="M1692.6,337 L1693.6,353 Q1696.1,355.5 1698.6,353 L1699.6,334" fill="#fff" stroke="#000" stroke-width="1.3"/>
<line x1="1558" y1="267.5" x2="1607" y2="239.5" stroke="#d42424" stroke-width="1.3" />
<line x1="1559" y1="286.5" x2="1617" y2="253" stroke="#d42424" stroke-width="1.3" />
<line x1="1565.2" y1="232.4" x2="1565.2" y2="258" stroke="#d42424" stroke-width="1.3" />
<line x1="1565.2" y1="314" x2="1565.2" y2="291" stroke="#d42424" stroke-width="1.3" />
<path d="M1562,256 L1565.2,264 L1568.4,256 Z" fill="#d42424" stroke="#d42424" stroke-width="1"/>
<path d="M1562,293 L1565.2,285 L1568.4,293 Z" fill="#d42424" stroke="#d42424" stroke-width="1"/>
<rect x="1693.6" y="1388.1" width="234.2" height="39.8" rx="19.9" fill="none" stroke="#a3a3a3" stroke-width="1.5"/>
<text x="0" y="0" font-family="Liberation Sans" font-weight="bold" font-style="italic" font-size="34" fill="#8e8e92" stroke="#8e8e92" stroke-width="0.7" transform="translate(1710 1419.7) scale(1.62 1)">SIGNAL</text>
<text x="1818" y="1444.6" font-family="Liberation Sans" font-size="19" fill="#9a9a9a" letter-spacing="9.6">meble</text>
</svg>
</body></html>
